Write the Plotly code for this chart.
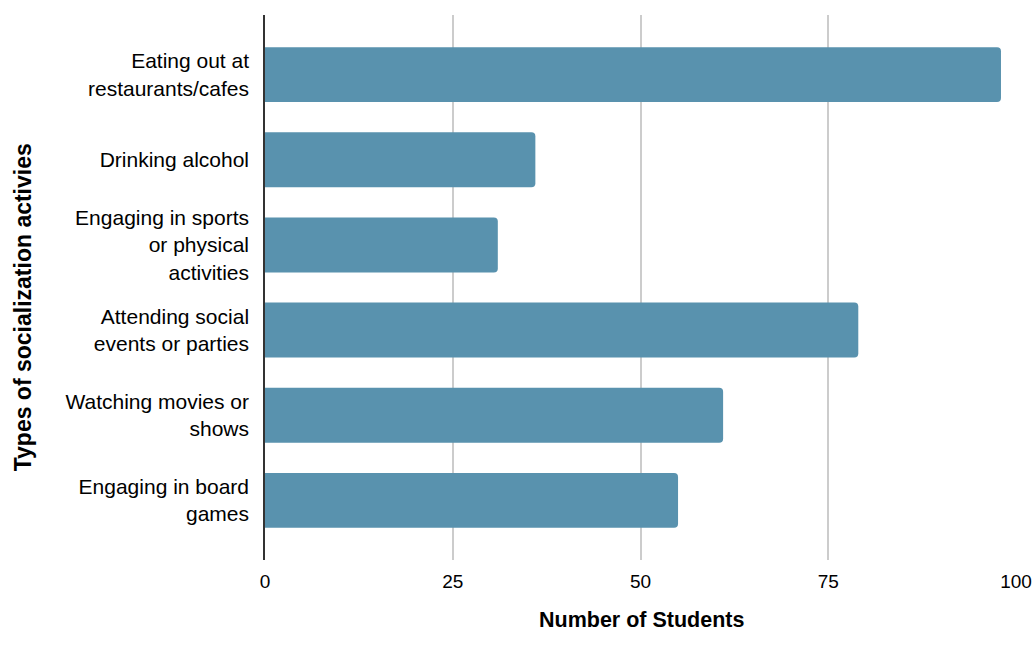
import plotly.graph_objects as go

categories = [
    "Eating out at<br>restaurants/cafes",
    "Drinking alcohol",
    "Engaging in sports<br>or physical<br>activities",
    "Attending social<br>events or parties",
    "Watching movies or<br>shows",
    "Engaging in board<br>games",
]
students = [98, 36, 31, 79, 61, 55]
x_ticks = [0, 25, 50, 75, 100]

fig = go.Figure(go.Bar(
    x=students, y=categories, orientation="h",
    marker=dict(color="#5992AE", line=dict(width=0)),
    width=0.645,
))

fig.update_layout(
    width=1036, height=657,
    margin=dict(l=265, r=20, t=15, b=97, autoexpand=False),
    paper_bgcolor="white", plot_bgcolor="white",
    font=dict(family="Liberation Sans, Arial, sans-serif", color="black"),
    barcornerradius=4,
    showlegend=False,
    xaxis=dict(
        range=[0, 100], tickvals=x_ticks, showgrid=True,
        gridcolor="#cccccc", gridwidth=1.5, zeroline=False,
        showline=False, tickfont=dict(size=19), ticks="",
        ticklabelstandoff=8, automargin=False,
    ),
    yaxis=dict(
        categoryorder="array", categoryarray=categories,
        autorange=False, range=[5.70, -0.70],
        showline=True, linecolor="#333333", linewidth=1.5,
        showgrid=False, zeroline=False, ticks="",
        tickfont=dict(size=21), ticklabelstandoff=10, automargin=False,
    ),
    annotations=[
        dict(text="<b>Number of Students</b>", xref="paper", yref="paper",
             x=0.501, y=-0.11, xanchor="center", yanchor="middle",
             showarrow=False, font=dict(size=21.5)),
        dict(text="<b>Types of socialization activies</b>", xref="paper", yref="paper",
             x=-0.322, y=0.464, xanchor="center", yanchor="middle", textangle=-90,
             showarrow=False, font=dict(size=23)),
    ],
)

fig.write_html(
    "out.html",
    config={"displayModeBar": False},
    post_script="document.body.style.margin='0';document.body.style.overflow='hidden';",
)
